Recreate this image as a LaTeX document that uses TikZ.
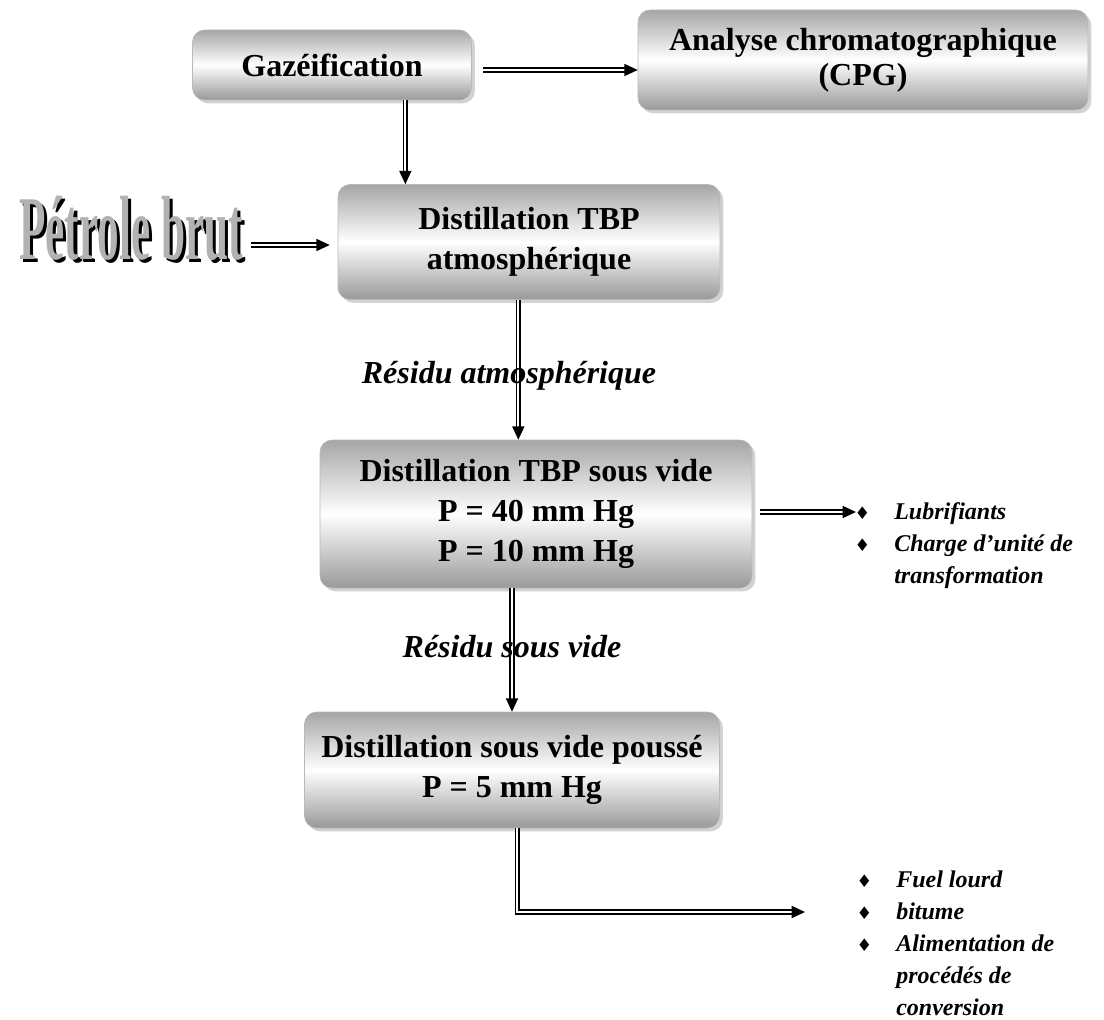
\documentclass[tikz,border=0pt]{standalone}
\usepackage{fontspec}
\setmainfont{Liberation Serif}
\newfontfamily\symbfont{DejaVu Sans}
\usetikzlibrary{shadows,arrows.meta}

\tikzset{
  etape/.style={rounded corners=9pt, draw=gray!55, top color=gray!70, bottom color=gray!80, middle color=white,
    drop shadow={shadow xshift=2.5pt, shadow yshift=-2.5pt, fill=gray!70},
    font=\fontsize{24}{30}\selectfont\bfseries, align=center},
  flux/.style={double=white, double distance=1.4pt, line width=1.2pt, -{Triangle[length=10pt,width=9pt]}},
  etiq/.style={font=\fontsize{24}{28}\selectfont\bfseries\itshape},
  liste/.style={font=\fontsize{18}{24}\selectfont\bfseries\itshape, align=left, anchor=base west}
}
\newcommand{\puce}{{\symbfont\fontsize{13}{13}\selectfont ♦}}
\newcommand{\brutmot}{\scalebox{0.45}[0.95]{\fontsize{72}{72}\selectfont\bfseries Pétrole brut}}

\begin{document}
\begin{tikzpicture}[x=0.75pt,y=-0.75pt]
    \useasboundingbox (0,0) rectangle (1104,1020);
    % boites
    \node[etape, minimum width=279*0.75pt, minimum height=70*0.75pt](gaz) at (332,65){Gazéification};
    \node[etape, minimum width=450*0.75pt, minimum height=100*0.75pt, font=\fontsize{24}{26}\selectfont\bfseries](cpg) at (863,60){Analyse chromatographique\\(CPG)};
    \node[etape, minimum width=382*0.75pt, minimum height=115*0.75pt](atm) at (529,242){Distillation TBP\\atmosphérique};
    \node[etape, minimum width=432*0.75pt, minimum height=148*0.75pt](vide) at (536,514){Distillation TBP sous vide\\P = 40 mm Hg\\P = 10 mm Hg};
    \node[etape, minimum width=415*0.75pt, minimum height=116*0.75pt](pousse) at (512,770){Distillation sous vide poussé\\P = 5 mm Hg};
    % petrole brut
    \node(brut) at (131,230){\makebox[0pt][l]{\hspace{2.5pt}\raisebox{-2.5pt}{\color{black}\brutmot}}{\color{gray!60}\brutmot}};
    % fleches
    \draw[flux]([shift={(11,5)}]gaz.east)coordinate(g1)--(g1-|cpg.west);
    \draw[flux]([xshift=55pt]gaz.south)coordinate(g2)--(g2|-atm.north);
    \draw[flux]([shift={(4,15)}]brut.east)coordinate(b1)--([xshift=-6pt]b1-|atm.west);
    \draw[flux]([xshift=-8pt]atm.south)coordinate(a1)--(a1|-vide.north);
    \draw[flux](vide.south-|pousse.north)--(pousse.north);
    \coordinate(lub) at (856,512);
    \draw[flux]([xshift=6pt]vide.east|-lub)--(lub);
    \coordinate(fin) at (805,912);
    \draw[flux]([xshift=4pt]pousse.south)|-(fin);
    % etiquettes
    \node[etiq](resatm) at (509,376){Résidu atmosphérique};
    \node[etiq](resvide) at (512,647){Résidu sous vide};
    \node[liste](prod1) at (850,519){\begin{tabular}[t]{@{}l@{\hspace{18pt}}l@{}}
        \puce & Lubrifiants\\ \puce & Charge d'unité de\\ & transformation\end{tabular}};
    \node[liste](prod2) at (852,887){\begin{tabular}[t]{@{}l@{\hspace{18pt}}l@{}}
        \puce & Fuel lourd\\ \puce & bitume\\ \puce & Alimentation de\\ & procédés de\\ & conversion\end{tabular}};
\end{tikzpicture}
\end{document}
